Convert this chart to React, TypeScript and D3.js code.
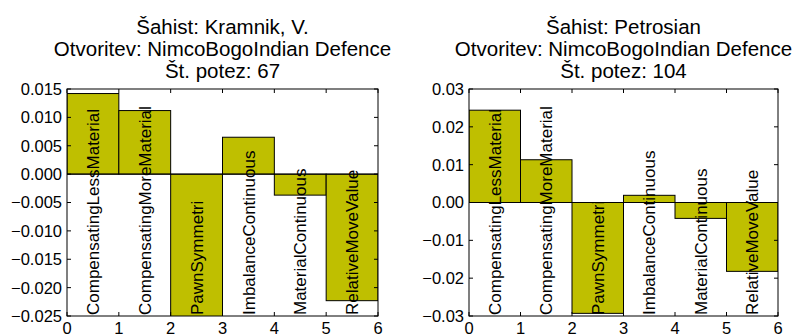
import React from "react";
import * as d3 from "d3";

// Feature names shown on each bar
const features = [
  "CompensatingLessMaterial",
  "CompensatingMoreMaterial",
  "PawnSymmetri",
  "ImbalanceContinuous",
  "MaterialContinuous",
  "RelativeMoveValue",
];

// Feature weights per player
const kramnikValues = [0.0142, 0.0112, -0.0265, 0.0065, -0.0037, -0.0223];
const petrosianValues = [0.0244, 0.0113, -0.0293, 0.0019, -0.0042, -0.0182];

const kramnikTitle = ["Šahist: Kramnik, V.", "Otvoritev: NimcoBogoIndian Defence", "Št. potez: 67"];
const petrosianTitle = ["Šahist: Petrosian", "Otvoritev: NimcoBogoIndian Defence", "Št. potez: 104"];

const kramnikYTicks = [-0.025, -0.02, -0.015, -0.01, -0.005, 0, 0.005, 0.01, 0.015];
const petrosianYTicks = [-0.03, -0.02, -0.01, 0, 0.01, 0.02, 0.03];
const xTicks = [0, 1, 2, 3, 4, 5, 6];

const FONT = "'Liberation Sans', Arial, Helvetica, sans-serif";
const BAR_FILL = "#bfbf00";
const TOP = 89;
const BOTTOM = 316;
const TICK = 4;

type PanelProps = {
  id: string;
  left: number;
  right: number;
  values: number[];
  title: string[];
  yDomain: [number, number];
  yTicks: number[];
  yFormat: string;
};

const fmtMinus = (s: string) => s.replace("-", "\u2212");

function Panel({ id, left, right, values, title, yDomain, yTicks, yFormat }: PanelProps) {
  const x = d3.scaleLinear().domain([0, 6]).range([left, right]);
  const y = d3.scaleLinear().domain(yDomain).range([BOTTOM, TOP]);
  const fmt = d3.format(yFormat);
  const cx = (left + right) / 2;
  const clipId = `clip-${id}`;
  return (
    <g>
      <defs>
        <clipPath id={clipId}>
          <rect x={left} y={TOP} width={right - left} height={BOTTOM - TOP} />
        </clipPath>
      </defs>
      {title.map((t, i) => (
        <text key={i} x={cx} y={34 + i * 22} textAnchor="middle" fontSize={20.5} fontFamily={FONT} fill="#000">
          {t}
        </text>
      ))}
      <g clipPath={`url(#${clipId})`}>
        {values.map((v, i) => (
          <rect
            key={i}
            x={x(i)}
            y={Math.min(y(v), y(0))}
            width={x(i + 1) - x(i)}
            height={Math.abs(y(v) - y(0))}
            fill={BAR_FILL}
            stroke="#000"
            strokeWidth={1}
          />
        ))}
        <line x1={left} x2={right} y1={y(0)} y2={y(0)} stroke="#000" strokeWidth={1} />
        {features.map((f, i) => (
          <text
            key={f}
            transform={`translate(${x(i + 0.5)},${BOTTOM - 1}) rotate(-90)`}
            dy="0.36em"
            textAnchor="start"
            fontSize={17}
            fontFamily={FONT}
            fill="#000"
          >
            {f}
          </text>
        ))}
      </g>
      {/* ticks, inside on all four sides */}
      {yTicks.map((t) => (
        <g key={t}>
          <line x1={left} x2={left + TICK} y1={y(t)} y2={y(t)} stroke="#000" strokeWidth={1} />
          <line x1={right - TICK} x2={right} y1={y(t)} y2={y(t)} stroke="#000" strokeWidth={1} />
          <text x={left - 5} y={y(t)} dy="0.36em" textAnchor="end" fontSize={16.5} fontFamily={FONT} fill="#000">
            {fmtMinus(fmt(t))}
          </text>
        </g>
      ))}
      {xTicks.map((t) => (
        <g key={t}>
          <line x1={x(t)} x2={x(t)} y1={BOTTOM} y2={BOTTOM - TICK} stroke="#000" strokeWidth={1} />
          <line x1={x(t)} x2={x(t)} y1={TOP} y2={TOP + TICK} stroke="#000" strokeWidth={1} />
          <text x={x(t)} y={BOTTOM + 18} textAnchor="middle" fontSize={16.5} fontFamily={FONT} fill="#000">
            {t}
          </text>
        </g>
      ))}
      <rect x={left} y={TOP} width={right - left} height={BOTTOM - TOP} fill="none" stroke="#000" strokeWidth={1} />
    </g>
  );
}

export default function App() {
  return (
    <svg width={795} height={336} style={{ position: "absolute", left: 0, top: 0, background: "#fff" }}>
      <rect width={795} height={336} fill="#fff" />
      <Panel
        id="kramnik"
        left={67}
        right={378}
        values={kramnikValues}
        title={kramnikTitle}
        yDomain={[-0.025, 0.015]}
        yTicks={kramnikYTicks}
        yFormat=".3f"
      />
      <Panel
        id="petrosian"
        left={469}
        right={778}
        values={petrosianValues}
        title={petrosianTitle}
        yDomain={[-0.03, 0.03]}
        yTicks={petrosianYTicks}
        yFormat=".2f"
      />
    </svg>
  );
}
